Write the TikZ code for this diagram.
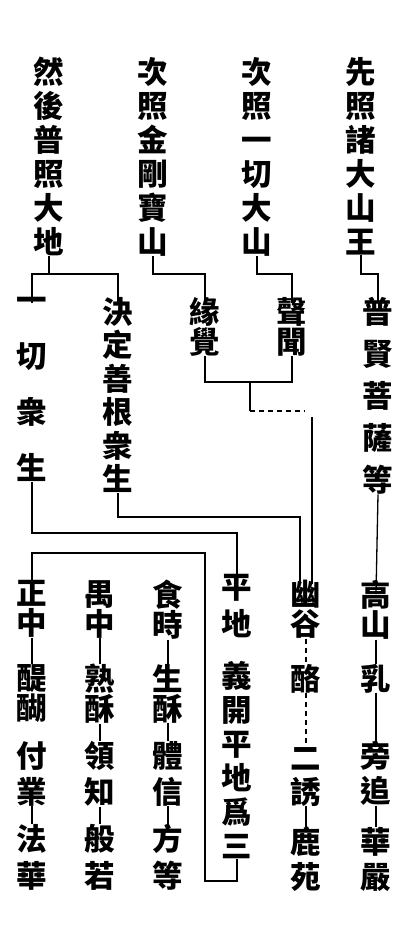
\documentclass[tikz,border=0pt]{standalone}
\usepackage{fontspec}
\newfontfamily\cjk{Noto Sans CJK TC}
\tikzset{
    zi/.style={font=\cjk\bfseries\fontsize{30.5}{#1}\selectfont, align=center, inner sep=0pt, anchor=north},
    link/.style={line width=1.3pt, black},
    dlink/.style={line width=1.3pt, black, dash pattern=on 5pt off 4pt}
}
\begin{document}
\begin{tikzpicture}[x=1pt, y=-1pt]
    \useasboundingbox (0,0) rectangle (408,930);

    % Top row: the four illuminations
    \node[zi=34] (topA) at (361,57) {先\\照\\諸\\大\\山\\王};
    \node[zi=34] (topB) at (257,57) {次\\照\\一\\切\\大\\山};
    \node[zi=34] (topC) at (153,57) {次\\照\\金\\剛\\寶\\山};
    \node[zi=34] (topD) at (49,57) {然\\後\\普\\照\\大\\地};

    % Second row: the hearers
    \node[zi=42] (pu) at (378,297) {普\\賢\\菩\\薩\\等};
    \node[zi=30] (shengwen) at (292,297) {聲\\聞};
    \node[zi=30] (yuanjue) at (205,297) {緣\\覺};
    \node[zi=33.5] (jueding) at (118,297) {決\\定\\善\\根\\衆\\生};
    \node[zi=56] (yiqie) at (32,297) {一\\切\\衆\\生};

    % Third row, right to left
    \node[zi=30] (gaoshan) at (376,580) {高\\山};
    \node[zi=30] (ru) at (376,664) {乳};
    \node[zi=35] (pangzhui) at (376,741) {旁\\追};
    \node[zi=35] (huayan) at (376,827) {華\\嚴};

    \node[zi=30] (yougu) at (306,580) {幽\\谷};
    \node[zi=30] (lao) at (306,664) {酪};
    \node[zi=34] (eryou) at (306,747) {二\\誘};
    \node[zi=35] (luyuan) at (306,827) {鹿\\苑};

    \node[zi=37] (pingdi) at (237,574) {平\\地};
    \node[zi=34] (yikai) at (237,661) {義\\開\\平\\地\\爲\\三};

    \node[zi=30] (shishi) at (168,580) {食\\時};
    \node[zi=30] (shengsu) at (168,664) {生\\酥};
    \node[zi=36] (tixin) at (168,741) {體\\信};
    \node[zi=37] (fangdeng) at (168,824) {方\\等};

    \node[zi=30] (yuzhong) at (100,580) {禺\\中};
    \node[zi=30] (shusu) at (100,664) {熟\\酥};
    \node[zi=36] (lingzhi) at (100,741) {領\\知};
    \node[zi=37] (bore) at (100,824) {般\\若};

    \node[zi=30] (zhengzhong) at (32,580) {正\\中};
    \node[zi=30] (tihu) at (32,664) {醍\\醐};
    \node[zi=36] (fuye) at (32,741) {付\\業};
    \node[zi=37] (fahua) at (32,824) {法\\華};

    % Brackets under the top row
    \coordinate (bus) at (0,274);
    \draw[link] (topD.south) -- (topD.south |- bus);
    \draw[link] ([yshift=-6]yiqie.north) |- (jueding.north |- bus) -- ([yshift=-6]jueding.north);
    \draw[link] (topC.south) |- (yuanjue.north |- bus) -- ([yshift=-6]yuanjue.north);
    \draw[link] (topB.south) |- (shengwen.north |- bus) -- ([yshift=-6]shengwen.north);
    \draw[link] (topA.south) |- (pu.north |- bus) -- ([yshift=-6]pu.north);

    % Two vehicles join and go down to the valley
    \coordinate (erjoin) at (250,382);
    \coordinate (erbend) at (250,411);
    \coordinate (erturn) at (312,411);
    \draw[link] (yuanjue.south) |- (erjoin) -| (shengwen.south);
    \draw[link] (erjoin) -- (erbend);
    \draw[dlink] (erbend) -- ([xshift=-7]erturn);
    \draw[link] ([yshift=-6]erturn) -- ([xshift=6,yshift=-4]yougu.north);
    \draw[link] (jueding.south) |- ([xshift=-6]yougu.north |- 0,517) -- ([xshift=-6,yshift=-4]yougu.north);
    \draw[link] (yiqie.south) |- (pingdi.north |- 0,533) -- ([yshift=-4]pingdi.north);
    \draw[link] (pu.south) -- ([yshift=-14]gaoshan.north);

    % Level ground opened into three
    \draw[link] (yikai.south) |- (205,881) |- (zhengzhong.north |- 0,553) -- ([yshift=-10]zhengzhong.north);

    % Links inside the columns
    \draw[link] (gaoshan) -- (ru) -- (pangzhui) -- (huayan);
    \draw[dlink] (yougu) -- (lao) -- (eryou);
    \draw[link] (eryou) -- (luyuan);
    \draw[link] (shishi) -- (shengsu) -- (tixin) -- (fangdeng);
    \draw[link] (yuzhong) -- (shusu) -- (lingzhi) -- (bore);
    \draw[link] (zhengzhong) -- (tihu);
    \draw[link] (fuye) -- (fahua);
\end{tikzpicture}
\end{document}
